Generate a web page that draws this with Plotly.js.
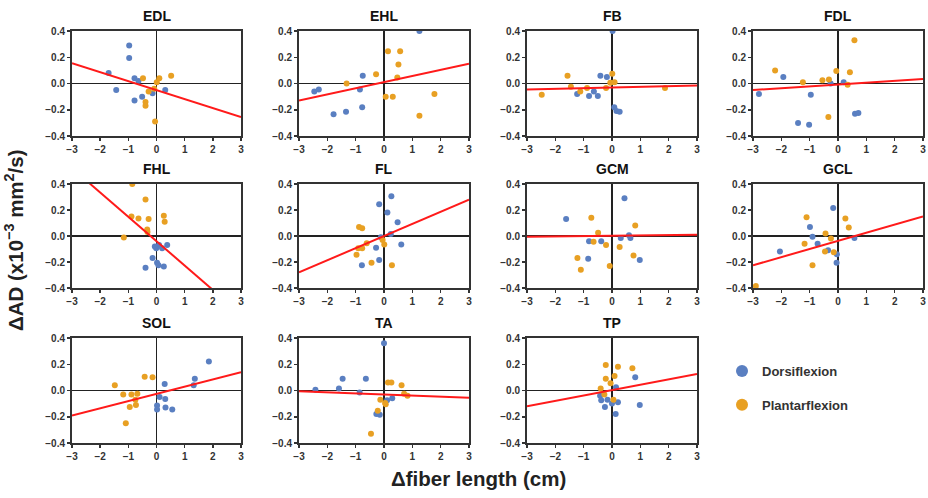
<!DOCTYPE html>
<html><head><meta charset="utf-8">
<script src="https://cdn.plot.ly/plotly-3.0.1.min.js"></script>
<style>html,body{margin:0;padding:0;background:#fff}#chart{width:928px;height:498px}</style>
</head><body><div id="chart"></div>
<script>
const muscles = ['EDL','EHL','FB','FDL','FHL','FL','GCM','GCL','SOL','TA','TP'];
const xTicks = [-3,-2,-1,0,1,2,3];
const yTicks = [-0.4,-0.2,0,0.2,0.4];
// regression line: value at x=-3 and at x=3
const fitX = [-3, 3];
const fitLeft  = [0.155, -0.13, -0.045, -0.05, 0.522, -0.28, -0.005, -0.225, -0.19, -0.005, -0.12];
const fitRight = [-0.255, 0.15, -0.015, 0.035, -0.602, 0.28, 0.01, 0.15, 0.14, -0.055, 0.125];

const dorsiX_EDL = [-0.97,-0.97,-1.70,-1.43,-0.78,-0.64,-0.51,-0.78,-0.14,0.31];
const dorsiY_EDL = [0.29,0.195,0.08,-0.05,0.04,0.02,-0.10,-0.13,-0.075,-0.05];
const plantX_EDL = [-0.48,-0.28,-0.39,-0.39,-0.08,0.01,0.10,0.52,-0.05];
const plantY_EDL = [0.04,-0.06,-0.14,-0.17,-0.04,0.01,0.04,0.06,-0.29];

const dorsiX_EHL = [-2.46,-2.30,-1.78,-1.34,-0.85,-0.75,-0.77,1.25];
const dorsiY_EHL = [-0.06,-0.045,-0.235,-0.215,-0.045,0.06,-0.18,0.40];
const plantX_EHL = [-1.32,-0.28,0.14,0.57,0.51,0.47,0.06,0.31,1.78,1.25];
const plantY_EHL = [0.0,0.07,0.245,0.245,0.145,0.045,-0.10,-0.10,-0.08,-0.245];

const dorsiX_FB = [-1.23,-0.81,-0.64,-0.50,-0.41,-0.18,0.02,0.08,0.16,0.27];
const dorsiY_FB = [-0.08,-0.095,-0.06,-0.095,0.06,0.05,0.40,-0.18,-0.21,-0.215];
const plantX_FB = [-2.48,-1.57,-1.45,-1.12,-0.88,-0.21,-0.06,0.01,0.09,1.87];
const plantY_FB = [-0.085,0.06,-0.025,-0.06,-0.035,-0.035,0.005,0.075,0.01,-0.035];

const dorsiX_FDL = [-2.79,-1.93,-1.41,-1.02,-0.96,-0.26,0.20,0.60,0.72];
const dorsiY_FDL = [-0.08,0.05,-0.30,-0.315,-0.085,0.0,0.01,-0.23,-0.225];
const plantX_FDL = [-2.22,-1.24,-0.55,-0.32,-0.34,-0.06,0.42,0.34,0.58];
const plantY_FDL = [0.10,0.01,0.025,0.03,-0.255,0.095,0.085,-0.01,0.33];

const dorsiX_FHL = [0.09,-0.01,-0.06,0.38,0.20,-0.14,0.02,0.07,-0.39,0.26];
const dorsiY_FHL = [-0.07,-0.095,-0.08,-0.07,-0.095,-0.17,-0.205,-0.225,-0.245,-0.235];
const plantX_FHL = [-0.86,-0.39,-0.89,-0.64,-0.28,0.26,0.29,-0.33,-0.32,-1.16];
const plantY_FHL = [0.40,0.28,0.15,0.135,0.13,0.155,0.11,0.05,0.03,-0.012];

const dorsiX_FL = [0.26,-0.17,0.12,0.48,0.24,-0.11,-0.28,0.61,-0.17,-0.78];
const dorsiY_FL = [0.305,0.245,0.18,0.105,0.015,-0.01,-0.09,-0.065,-0.185,-0.225];
const plantX_FL = [-0.88,-0.77,-0.61,-0.91,-0.77,-0.97,-0.44,0.28,0.01,-0.05];
const plantY_FL = [0.07,0.06,-0.055,-0.095,-0.095,-0.145,-0.205,-0.225,-0.065,-0.03];

const dorsiX_GCM = [0.44,-1.62,-0.81,-0.38,-0.84,0.31,0.60,0.65,0.98];
const dorsiY_GCM = [0.29,0.13,-0.04,-0.04,-0.175,-0.015,0.005,-0.015,-0.185];
const plantX_GCM = [-0.73,-0.49,-0.65,-0.21,0.27,0.82,0.76,-1.22,-1.10,-0.08];
const plantY_GCM = [0.14,0.025,-0.045,-0.07,-0.085,0.08,-0.15,-0.17,-0.26,-0.23];

const dorsiX_GCL = [-0.17,-0.99,-0.90,-0.72,-0.35,-2.05,-0.04,-0.05,0.58];
const dorsiY_GCL = [0.215,0.07,-0.005,-0.06,-0.11,-0.12,-0.14,-0.205,-0.015];
const plantX_GCL = [-1.11,-1.18,-0.90,-0.44,-0.25,-0.46,-0.15,0.26,0.38,-2.90];
const plantY_GCL = [0.145,-0.06,-0.225,0.02,-0.02,-0.12,-0.125,0.135,0.065,-0.385];

const dorsiX_SOL = [1.86,1.36,1.32,0.29,0.11,0.31,0.02,0.02,0.32,0.56];
const dorsiY_SOL = [0.22,0.09,0.04,0.05,-0.05,-0.065,-0.115,-0.145,-0.13,-0.145];
const plantX_SOL = [-1.48,-0.42,-0.14,-1.18,-0.89,-0.68,-0.75,-0.95,-0.73,-1.09];
const plantY_SOL = [0.04,0.105,0.10,-0.03,-0.03,-0.025,-0.07,-0.125,-0.11,-0.25];

const dorsiX_TA = [0.0,-2.42,-1.59,-1.46,-0.64,-0.86,0.11,0.29,-0.27,-0.15];
const dorsiY_TA = [0.36,0.005,0.015,0.09,0.09,-0.015,-0.075,-0.06,-0.18,-0.185];
const plantX_TA = [0.14,0.26,0.62,0.71,0.83,-0.13,0.04,0.06,-0.22,-0.46];
const plantY_TA = [0.06,0.06,0.04,-0.025,-0.04,-0.07,-0.095,-0.105,-0.155,-0.33];

const dorsiX_TP = [0.82,0.14,-0.42,-0.38,-0.16,0.0,0.21,-0.25,0.13,0.98];
const dorsiY_TP = [0.10,0.025,-0.04,-0.075,-0.07,-0.10,-0.09,-0.125,-0.18,-0.11];
const plantX_TP = [-0.22,0.21,0.72,0.09,-0.22,-0.05,-0.40,-0.27,0.05];
const plantY_TP = [0.195,0.18,0.17,0.11,0.09,0.055,0.015,-0.03,-0.07];

const dorsiX = [dorsiX_EDL,dorsiX_EHL,dorsiX_FB,dorsiX_FDL,dorsiX_FHL,dorsiX_FL,dorsiX_GCM,dorsiX_GCL,dorsiX_SOL,dorsiX_TA,dorsiX_TP];
const dorsiY = [dorsiY_EDL,dorsiY_EHL,dorsiY_FB,dorsiY_FDL,dorsiY_FHL,dorsiY_FL,dorsiY_GCM,dorsiY_GCL,dorsiY_SOL,dorsiY_TA,dorsiY_TP];
const plantX = [plantX_EDL,plantX_EHL,plantX_FB,plantX_FDL,plantX_FHL,plantX_FL,plantX_GCM,plantX_GCL,plantX_SOL,plantX_TA,plantX_TP];
const plantY = [plantY_EDL,plantY_EHL,plantY_FB,plantY_FDL,plantY_FHL,plantY_FL,plantY_GCM,plantY_GCL,plantY_SOL,plantY_TA,plantY_TP];

const W = 928, H = 498;
const colPx = [[72,241],[299,469],[527,697],[753,923]];
const rowPx = [[31,136],[184,288],[338,443]];
const BLUE = '#5a7fc1', ORANGE = '#e8a023', RED = '#ff1a1a', AX = '#333333';
const FONT = 'Liberation Sans, Arial, sans-serif';

const traces = [];
const layout = {
  width: W, height: H, margin: {l:0,r:0,t:0,b:0},
  paper_bgcolor: '#fff', plot_bgcolor: '#fff',
  showlegend: true,
  legend: {x: 722/W, y: 1-356/H, xanchor:'left', yanchor:'top', itemsizing:'constant', tracegroupgap: 14,
           font:{family:FONT, size:13, color:AX, weight:'bold'}, bgcolor:'rgba(0,0,0,0)'},
  annotations: [], font: {family: FONT}
};

muscles.forEach((m, i) => {
  const r = Math.floor(i/4), c = i%4;
  const sfx = i === 0 ? '' : String(i+1);
  const xa = 'x'+sfx, ya = 'y'+sfx;
  const axCommon = {
    showgrid:false, zeroline:true, zerolinecolor:'#222', zerolinewidth:1.5,
    showline:true, linecolor:AX, linewidth:2, mirror:true,
    ticks:'outside', ticklen:3, tickwidth:1.5, tickcolor:AX,
    tickfont:{family:FONT, size:10, color:AX, weight:'bold'}, fixedrange:true
  };
  layout['xaxis'+sfx] = Object.assign({}, axCommon, {
    domain:[colPx[c][0]/W, colPx[c][1]/W], anchor: ya, range:[-3,3],
    tickvals: xTicks, ticktext: xTicks.map(v => v < 0 ? '\u2212'+Math.abs(v) : String(v))
  });
  layout['yaxis'+sfx] = Object.assign({}, axCommon, {
    domain:[1-rowPx[r][1]/H, 1-rowPx[r][0]/H], anchor: xa, range:[-0.4,0.4],
    tickvals: yTicks, ticktext: yTicks.map(v => (v < 0 ? '\u2212' : '') + Math.abs(v).toFixed(1))
  });
  traces.push({type:'scatter', mode:'markers', x: dorsiX[i], y: dorsiY[i], xaxis: xa, yaxis: ya,
    marker:{color:BLUE, size:6}, name:'Dorsiflexion', legendgroup:'d', showlegend: i===0, hoverinfo:'skip'});
  traces.push({type:'scatter', mode:'markers', x: plantX[i], y: plantY[i], xaxis: xa, yaxis: ya,
    marker:{color:ORANGE, size:6}, name:'Plantarflexion', legendgroup:'p', showlegend: i===0, hoverinfo:'skip'});
  traces.push({type:'scatter', mode:'lines', x: fitX, y: [fitLeft[i], fitRight[i]], xaxis: xa, yaxis: ya,
    line:{color:RED, width:2}, showlegend:false, hoverinfo:'skip'});
  layout.annotations.push({text: m, xref:'paper', yref:'paper', x:(colPx[c][0]+colPx[c][1])/2/W,
    y: 1-rowPx[r][0]/H, xanchor:'center', yanchor:'bottom', yshift:5, showarrow:false,
    font:{family:FONT, size:14, color:'#111', weight:'bold'}});
});

layout.annotations.push({text:'\u0394fiber length (cm)', xref:'paper', yref:'paper', x:478/W, y:1-478/H,
  xanchor:'center', yanchor:'middle', showarrow:false, font:{family:FONT, size:20.5, color:'#222', weight:'bold'}});
layout.annotations.push({text:'\u0394AD (x10<sup>\u22123</sup> mm<sup>2</sup>/s)', xref:'paper', yref:'paper', x:14/W, y:1-240/H,
  xanchor:'center', yanchor:'middle', textangle:-90, showarrow:false, font:{family:FONT, size:20.5, color:'#222', weight:'bold'}});

Plotly.newPlot('chart', traces, layout, {staticPlot:true, displayModeBar:false});
</script></body></html>
